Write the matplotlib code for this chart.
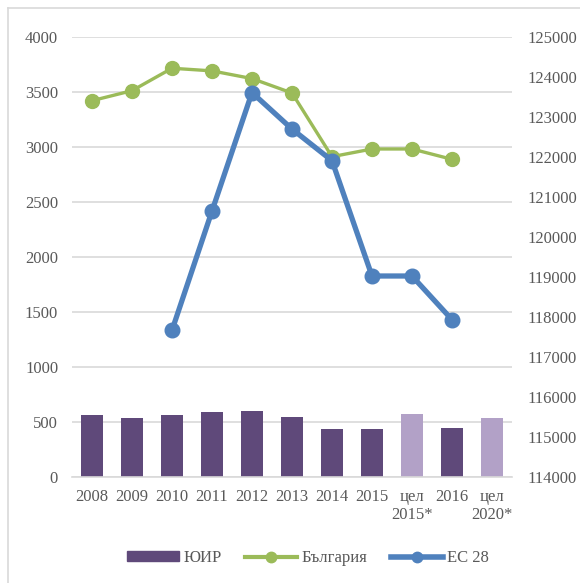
import numpy as np
import matplotlib
matplotlib.use("Agg")
import matplotlib.pyplot as plt
from matplotlib.lines import Line2D

categories = ["2008", "2009", "2010", "2011", "2012", "2013", "2014", "2015",
              "цел\n2015*", "2016", "цел\n2020*"]
yuir = [560, 533, 567, 588, 603, 542, 433, 433, 570, 442, 536]
bulgaria = [3421, 3512, 3716, 3692, 3622, 3491, 2912, 2982, 2982, 2888, np.nan]
eu28 = [np.nan, np.nan, 117668, 120649, 123611, 122699, 121908, 119025, 119025, 117933, np.nan]
target_flags = [False, False, False, False, False, False, False, False, True, False, True]

left_ticks = [0, 500, 1000, 1500, 2000, 2500, 3000, 3500, 4000]
right_ticks = list(range(114000, 125001, 1000))

plt.rcParams['font.family'] = ['Liberation Serif', 'DejaVu Serif']
FS = 12
plt.rcParams['font.size'] = FS
TXT = "#595959"

fig = plt.figure(figsize=(5.8, 5.83), dpi=100)
ax = fig.add_axes([72/580, 1-477/583, 440/580, 440/583])
ax2 = ax.twinx()

x = np.arange(len(categories))
bar_colors = ["#B2A1C7" if t else "#5F497A" for t in target_flags]
ax.bar(x, yuir, width=0.56, color=bar_colors, zorder=2, label="ЮИР")
ax.plot(x, bulgaria, color="#9BBB59", lw=2.4, marker="o", ms=10, zorder=3, label="България")
ax2.plot(x, eu28, color="#4F81BD", lw=3.8, marker="o", ms=10.5, zorder=3, label="ЕС 28")

ax.set_xlim(-0.5, len(categories) - 0.5)
ax.set_ylim(0, 4000)
ax2.set_ylim(114000, 125000)
ax.set_yticks(left_ticks)
ax2.set_yticks(right_ticks)
ax.set_xticks(x)
ax.set_xticklabels(categories, linespacing=1.15)

ax.grid(axis="y", color="#D9D9D9", lw=1.2, zorder=0)
ax.set_axisbelow(True)
for a in (ax, ax2):
    for s in a.spines.values():
        s.set_visible(False)
    a.tick_params(length=0, colors=TXT, labelsize=FS)
ax.spines["bottom"].set_visible(True)
ax.spines["bottom"].set_color("#D9D9D9")
ax.spines["bottom"].set_linewidth(1.2)
ax.tick_params(axis="y", pad=10)
ax.tick_params(axis="x", pad=8.5)
ax2.tick_params(axis="y", pad=11)

handles = [
    plt.Rectangle((0, 0), 1, 1, color="#5F497A"),
    Line2D([], [], color="#9BBB59", lw=3.0, marker="o", ms=7.5),
    Line2D([], [], color="#4F81BD", lw=4.0, marker="o", ms=7.5),
]
leg = fig.legend(handles, ["ЮИР", "България", "ЕС 28"], loc="center",
                 bbox_to_anchor=(308/580, 1-558/583), ncol=3, frameon=False,
                 handlelength=3.15, handleheight=0.48, columnspacing=1.4,
                 handletextpad=0.25, fontsize=FS)
for t in leg.get_texts():
    t.set_color(TXT)

fig.add_artist(Line2D([8/580, 1], [1-8/583, 1-8/583], color="#D9D9D9", lw=1.2,
                      transform=fig.transFigure))
fig.add_artist(Line2D([8/580, 8/580], [0, 1-8/583], color="#D9D9D9", lw=1.2,
                      transform=fig.transFigure))

fig.savefig("out.png", dpi=100, facecolor="white")
